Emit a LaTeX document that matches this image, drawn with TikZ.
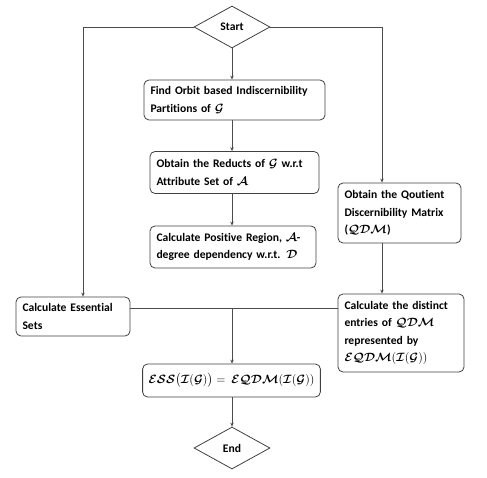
\documentclass[tikz,border=0pt]{standalone}
\usepackage{amsmath,bm}
\usepackage{fontspec}
\setmainfont[Ligatures=NoCommon]{Carlito}
\usetikzlibrary{shapes.geometric,arrows.meta}
\newcommand{\cG}{\bm{\mathcal{G}}}
\newcommand{\cA}{\bm{\mathcal{A}}}
\newcommand{\cD}{\bm{\mathcal{D}}}
\newcommand{\cQDM}{\bm{\mathcal{QDM}}}
\newcommand{\cEQDM}{\bm{\mathcal{EQDM}}}
\newcommand{\cI}{\bm{\mathcal{I}}}
\newcommand{\cESS}{\bm{\mathcal{ESS}}}
\begin{document}
\begin{tikzpicture}[x=1pt,y=-1pt,
  font=\fontsize{11.6pt}{17.5pt}\selectfont\bfseries,
  procbox/.style={draw=black!75,line width=0.8pt,rounded corners=5pt,align=left,inner xsep=6pt,inner ysep=2pt,anchor=center},
  term/.style={draw=black!75,line width=0.8pt,diamond,aspect=1.8,minimum width=76pt,minimum height=42pt,inner sep=0pt},
  conn/.style={draw=black!70,line width=0.8pt},
  arr/.style={conn,-{Stealth[length=4pt,width=3.5pt]}}]
\useasboundingbox (0,0) rectangle (487,478);
\node[term] (start) at (232,27) {Start};
\node[procbox,minimum width=181pt,minimum height=40pt,text width=168pt] (b1) at (234.5,100) {Find Orbit based Indiscernibility\\Partitions of $\cG$};
\node[procbox,minimum width=169pt,minimum height=42pt,text width=156pt] (b2) at (234.5,172.5) {Obtain the Reducts of $\cG$ w.r.t\\Attribute Set of $\cA$};
\node[procbox,minimum width=166pt,minimum height=42pt,text width=153pt] (b3) at (233,247) {Calculate Positive Region, $\cA$-\\degree dependency w.r.t. $\cD$};
\node[procbox,minimum width=123pt,minimum height=60pt,text width=110pt] (qdm) at (399.5,213) {Obtain the Qoutient\\Discernibility Matrix\\($\cQDM$)};
\node[procbox,minimum width=114pt,minimum height=39pt,text width=101pt] (ess) at (73,316.5) {Calculate Essential\\Sets};
\node[procbox,minimum width=126pt,minimum height=78pt,text width=113pt] (dist) at (401,333) {Calculate the distinct\\entries of $\cQDM$\\represented by\\$\cEQDM(\cI(\cG))$};
\node[procbox,minimum width=175pt,minimum height=33pt,align=center] (eq) at (231.5,380.5) {$\cESS\bigl(\cI(\cG)\bigr) =\ \cEQDM(\cI(\cG))$};
\node[term] (end) at (232,448) {End};
\coordinate (j) at (232,308);
\draw[arr] (start.south) -- (start.south |- b1.north);
\draw[arr] (b1.south -| start.south) -- (start.south |- b2.north);
\draw[arr] (b2.south -| start.south) -- (start.south |- b3.north);
\draw[arr] (start.west) -| ([xshift=10pt]ess.north);
\draw[arr] (start.east) -| ([xshift=-17.5pt]qdm.north);
\draw[arr] ([xshift=-17.5pt]qdm.south) -- ([xshift=-17.5pt]qdm.south |- dist.north);
\draw[conn] (ess.east |- j) -- (dist.west |- j);
\draw[arr] (j) -- (j |- eq.north);
\draw[arr] (eq.south -| j) -- (end.north);
\end{tikzpicture}
\end{document}
